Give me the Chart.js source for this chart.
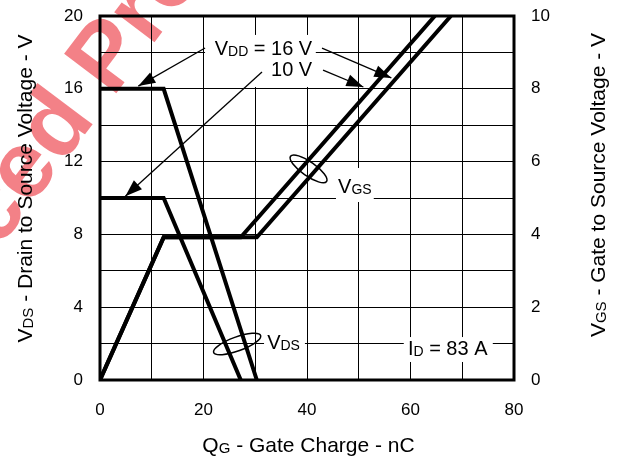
<!DOCTYPE html>
<html>
<head>
<meta charset="utf-8">
<script src="https://cdn.jsdelivr.net/npm/chart.js@4/dist/chart.umd.min.js"></script>
<style>
  html, body { margin: 0; padding: 0; background: #fff; }
  canvas { display: block; }
</style>
</head>
<body>
<canvas id="gateChart" width="624" height="461"></canvas>
<script>
// valores (Qg em nC, tensoes em V)
var vds16Q = [0, 12.3, 30.3];
var vds16V = [16, 16, 0];
var vds10Q = [0, 12.3, 27.2];
var vds10V = [10, 10, 0];
var vgs10Q = [0, 12.3, 27.2, 64.7];
var vgs10V = [0, 3.92, 3.92, 10];
var vgs16Q = [0, 12.3, 30.3, 67.8];
var vgs16V = [0, 3.92, 3.92, 10];

var qTicks = [0, 20, 40, 60, 80];
var vdsTicks = [0, 4, 8, 12, 16, 20];
var vgsTicks = [0, 2, 4, 6, 8, 10];

var FONT = '"Liberation Sans", Arial, Helvetica, sans-serif';

function pts(xs, ys) {
  return xs.map(function (x, i) { return { x: x, y: ys[i] }; });
}

function serie(label, xs, ys, axis) {
  return {
    label: label,
    data: pts(xs, ys),
    yAxisID: axis,
    showLine: true,
    borderColor: '#000',
    borderWidth: 4,
    borderJoinStyle: 'miter',
    pointRadius: 0,
    tension: 0
  };
}

// texto com subscrito: partes [texto, sub?]
function richWidth(ctx, parts, size, sub) {
  var w = 0;
  parts.forEach(function (p) {
    ctx.font = (p[1] ? sub : size) + 'px ' + FONT;
    w += ctx.measureText(p[0]).width;
  });
  return w;
}
function drawRich(ctx, parts, x, y, align, size, sub) {
  var w = richWidth(ctx, parts, size, sub);
  var cx = align === 'center' ? x - w / 2 : (align === 'right' ? x - w : x);
  ctx.textBaseline = 'alphabetic';
  ctx.textAlign = 'left';
  parts.forEach(function (p) {
    ctx.font = (p[1] ? sub : size) + 'px ' + FONT;
    ctx.fillText(p[0], cx, y + (p[1] ? 1 : 0));
    cx += ctx.measureText(p[0]).width;
  });
}

// anotacoes em coordenadas dos dados (x em nC, y na escala VDS)
var boxes = [
  [20.3, 41.7, 18.96, 16.1],
  [45.6, 52.9, 11.65, 9.78],
  [31.7, 39.6, 2.58, 1.32],
  [58.7, 75.9, 2.36, 0.99]
];
var labels = [
  { parts: [['V'], ['DD', 1], [' = 16 V']], x: 41.0, y: 17.86, align: 'right' },
  { parts: [['10 V']], x: 41.0, y: 16.7, align: 'right' },
  { parts: [['V'], ['GS', 1]], x: 46.0, y: 10.27, align: 'left' },
  { parts: [['V'], ['DS', 1]], x: 32.3, y: 1.70, align: 'left' },
  { parts: [['I'], ['D', 1], [' = 83 A']], x: 59.5, y: 1.37, align: 'left' }
];
var leaders = [
  [20.3, 18.24, 7.4, 16.15],
  [31.3, 16.92, 4.9, 10.1],
  [42.9, 18.24, 56.3, 16.6],
  [43.1, 17.03, 50.9, 16.1]
];
var ellipses = [
  { x: 40.3, y: 11.6, a: 22, b: 7, rot: 35 },
  { x: 26.5, y: 1.98, a: 25, b: 7, rot: -20 }
];

var overlay = {
  id: 'overlay',
  afterDatasetsDraw: function (chart) {
    var ctx = chart.ctx;
    var sx = chart.scales.x, sy = chart.scales.y;
    var X = function (v) { return sx.getPixelForValue(v); };
    var Y = function (v) { return sy.getPixelForValue(v); };
    ctx.save();
    ctx.fillStyle = '#fff';
    boxes.forEach(function (b) {
      ctx.fillRect(X(b[0]), Y(b[2]), X(b[1]) - X(b[0]), Y(b[3]) - Y(b[2]));
    });
    ctx.fillStyle = '#000';
    labels.forEach(function (l) {
      drawRich(ctx, l.parts, X(l.x), Y(l.y), l.align, 20, 14);
    });
    ctx.strokeStyle = '#000';
    ctx.lineWidth = 1.3;
    leaders.forEach(function (l) {
      var x0 = X(l[0]), y0 = Y(l[1]), x1 = X(l[2]), y1 = Y(l[3]);
      var ang = Math.atan2(y1 - y0, x1 - x0);
      ctx.beginPath();
      ctx.moveTo(x0, y0);
      ctx.lineTo(x1, y1);
      ctx.stroke();
      ctx.beginPath();
      ctx.moveTo(x1, y1);
      ctx.lineTo(x1 - 17 * Math.cos(ang) + 6 * Math.sin(ang), y1 - 17 * Math.sin(ang) - 6 * Math.cos(ang));
      ctx.lineTo(x1 - 17 * Math.cos(ang) - 6 * Math.sin(ang), y1 - 17 * Math.sin(ang) + 6 * Math.cos(ang));
      ctx.closePath();
      ctx.fill();
    });
    ctx.lineWidth = 1.5;
    ellipses.forEach(function (e) {
      ctx.beginPath();
      ctx.ellipse(X(e.x), Y(e.y), e.a, e.b, e.rot * Math.PI / 180, 0, 2 * Math.PI);
      ctx.stroke();
    });
    // moldura
    var ca = chart.chartArea;
    ctx.lineWidth = 3;
    ctx.strokeRect(ca.left, ca.top, ca.right - ca.left, ca.bottom - ca.top);
    ctx.restore();
  },
  afterDraw: function (chart) {
    var ctx = chart.ctx;
    ctx.save();
    ctx.fillStyle = '#000';
    drawRich(ctx, [['Q'], ['G', 1], [' - Gate Charge - nC']], 308.5, 452, 'center', 21, 15);
    ctx.save();
    ctx.translate(32, 188.5);
    ctx.rotate(-Math.PI / 2);
    drawRich(ctx, [['V'], ['DS', 1], [' - Drain to Source Voltage - V']], 0, 0, 'center', 21, 15);
    ctx.restore();
    ctx.save();
    ctx.translate(605, 185);
    ctx.rotate(-Math.PI / 2);
    drawRich(ctx, [['V'], ['GS', 1], [' - Gate to Source Voltage - V']], 0, 0, 'center', 21, 15);
    ctx.restore();
    // marca d'agua
    ctx.globalCompositeOperation = 'multiply';
    ctx.translate(-2, 250);
    ctx.rotate(-53 * Math.PI / 180);
    ctx.font = 'bold 95px ' + FONT;
    ctx.fillStyle = 'rgba(235, 45, 55, 0.6)';
    ctx.textAlign = 'left';
    ctx.textBaseline = 'alphabetic';
    ctx.fillText('ced Product', 0, 0);
    ctx.restore();
  }
};

function fixV(w) {
  return function (s) { s.width = w; s.paddingTop = 0; s.paddingBottom = 0; };
}

var ctx = document.getElementById('gateChart').getContext('2d');
var gateChart = new Chart(ctx, {
  type: 'scatter',
  data: {
    datasets: [
      serie('VDS 16 V', vds16Q, vds16V, 'y'),
      serie('VDS 10 V', vds10Q, vds10V, 'y'),
      serie('VGS 10 V', vgs10Q, vgs10V, 'y2'),
      serie('VGS 16 V', vgs16Q, vgs16V, 'y2')
    ]
  },
  options: {
    responsive: false,
    animation: false,
    devicePixelRatio: 1,
    layout: { padding: { top: 16, left: 0, right: 0, bottom: 0 } },
    plugins: { legend: { display: false }, tooltip: { enabled: false } },
    scales: {
      x: {
        type: 'linear', min: 0, max: 80,
        border: { display: false },
        grid: { color: '#000', lineWidth: 1, drawTicks: false },
        ticks: {
          stepSize: 10, padding: 20, color: '#000', maxRotation: 0, autoSkip: false,
          font: { family: FONT, size: 17 },
          callback: function (v) { return qTicks.indexOf(v) >= 0 ? String(v) : ''; }
        },
        afterFit: function (s) { s.height = 81; s.paddingLeft = 0; s.paddingRight = 0; }
      },
      y: {
        position: 'left', min: 0, max: 20,
        border: { display: false },
        grid: { color: '#000', lineWidth: 1, drawTicks: false },
        ticks: {
          stepSize: 2, padding: 17, color: '#000', autoSkip: false,
          font: { family: FONT, size: 17 },
          callback: function (v) { return vdsTicks.indexOf(v) >= 0 ? String(v) : ''; }
        },
        afterFit: fixV(100)
      },
      y2: {
        position: 'right', min: 0, max: 10,
        border: { display: false },
        grid: { display: false, drawTicks: false },
        ticks: {
          stepSize: 1, padding: 17, color: '#000', autoSkip: false,
          font: { family: FONT, size: 17 },
          callback: function (v) { return vgsTicks.indexOf(v) >= 0 ? String(v) : ''; }
        },
        afterFit: fixV(110)
      }
    }
  },
  plugins: [overlay]
});
</script>
</body>
</html>
